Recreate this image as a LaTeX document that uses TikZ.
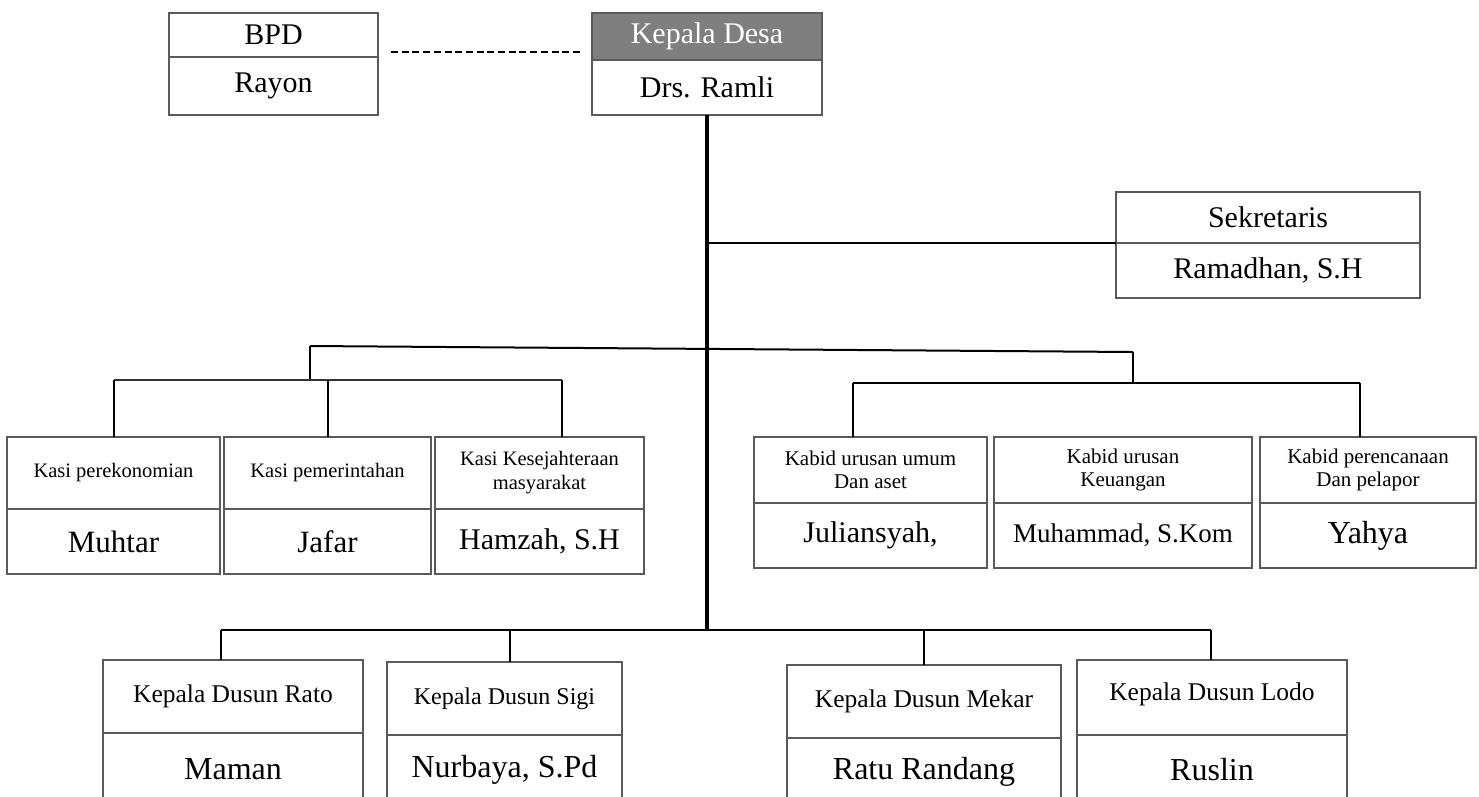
\documentclass[tikz,border=0pt]{standalone}
\usepackage{fontspec}
\setmainfont{Liberation Serif}
\definecolor{boxgray}{HTML}{5A5A5A}
\definecolor{headgray}{HTML}{7F7F7F}
\tikzset{
  cell/.style={draw=boxgray, line width=2pt, inner sep=0pt, outer sep=0pt, align=center, text=black},
  fbig/.style={font=\fontsize{30}{32}\selectfont},
  fname/.style={font=\fontsize{31}{33}\selectfont},
  fbname/.style={font=\fontsize{32}{34}\selectfont},
  fsmall/.style={font=\fontsize{20.5}{24}\selectfont},
  fkab/.style={font=\fontsize{21}{23}\selectfont},
  fdus/.style={font=\fontsize{25.5}{28}\selectfont},
  conn/.style={draw=black, line width=2pt},
  trunk/.style={draw=black, line width=3.5pt},
  thinconn/.style={draw=black!80, line width=1.6pt},
  dashline/.style={draw=black, line width=1.8pt, dash pattern=on 7pt off 3.7pt}
}
\begin{document}
\begin{tikzpicture}[x=1pt, y=-1pt]
\useasboundingbox (0,0) rectangle (1479,796);
\clip (0,0) rectangle (1479,796);

% BPD
\node[cell, fbig, minimum width=209pt, minimum height=44pt] (bpdh) at (273.5,35) {BPD};
\node[cell, fbig, minimum width=209pt, minimum height=58pt] (bpdn) at (273.5,86) {Rayon};

% Kepala Desa
\node[cell, fbig, fill=headgray, text=white, minimum width=230pt, minimum height=47pt] (kdh) at (707,36.5) {Kepala Desa};
\node[cell, fbig, minimum width=230pt, minimum height=55pt] (kdn) at (707,87.5) {Drs. Ramli};

% dashed link
\coordinate (d1) at (391,52);
\coordinate (d2) at (582,52);
\draw[dashline] (d1) -- (d2);

% Sekretaris
\node[cell, fbig, minimum width=304pt, minimum height=51pt] (sekh) at (1268,217.5) {Sekretaris};
\node[cell, fbig, minimum width=304pt, minimum height=55pt] (sekn) at (1268,270.5) {Ramadhan, S.H};

% Kasi boxes
\node[cell, fsmall, minimum width=213pt, minimum height=72pt] (k1h) at (113.5,473) {Kasi perekonomian};
\node[cell, fname, minimum width=213pt, minimum height=65pt] (k1n) at (113.5,541.5) {Muhtar};
\node[cell, fsmall, minimum width=207pt, minimum height=72pt] (k2h) at (327.5,473) {Kasi pemerintahan};
\node[cell, fname, minimum width=207pt, minimum height=65pt] (k2n) at (327.5,541.5) {Jafar};
\node[cell, fsmall, minimum width=209pt, minimum height=72pt] (k3h) at (539.5,473) {Kasi Kesejahteraan\\masyarakat};
\node[cell, fbig, minimum width=209pt, minimum height=65pt] (k3n) at (539.5,541.5) {Hamzah, S.H};

% Kabid boxes
\node[cell, fkab, minimum width=233pt, minimum height=66pt] (b1h) at (870.5,470) {Kabid urusan umum\\Dan aset};
\node[cell, fbig, minimum width=233pt, minimum height=65pt] (b1n) at (870.5,535.5) {Juliansyah,};
\node[cell, fkab, minimum width=258pt, minimum height=66pt] (b2h) at (1123,470) {Kabid urusan\\Keuangan};
\node[cell, font=\fontsize{27}{29}\selectfont, minimum width=258pt, minimum height=65pt] (b2n) at (1123,535.5) {Muhammad, S.Kom};
\node[cell, fkab, minimum width=216pt, minimum height=66pt] (b3h) at (1368,470) {Kabid perencanaan\\Dan pelapor};
\node[cell, font=\fontsize{32}{34}\selectfont, minimum width=216pt, minimum height=65pt] (b3n) at (1368,535.5) {Yahya};

% Dusun boxes
\node[cell, fdus, minimum width=260pt, minimum height=73pt] (d1h) at (233,696.5) {Kepala Dusun Rato};
\node[cell, fbname, minimum width=260pt, minimum height=72pt] (d1n) at (233,769) {Maman};
\node[cell, font=\fontsize{24}{26}\selectfont, minimum width=235pt, minimum height=73pt] (d2h) at (504.5,698.5) {Kepala Dusun Sigi};
\node[cell, fbname, minimum width=235pt, minimum height=70pt] (d2n) at (504.5,770) {Nurbaya, S.Pd};
\node[cell, fdus, minimum width=274pt, minimum height=73pt] (d3h) at (924,701.5) {Kepala Dusun Mekar};
\node[cell, fbname, minimum width=274pt, minimum height=67pt] (d3n) at (924,771.5) {Ratu Randang};
\node[cell, fdus, minimum width=270pt, minimum height=75pt, text depth=12pt] (d4h) at (1212,697.5) {Kepala Dusun Lodo};
\node[cell, fbname, minimum width=270pt, minimum height=70pt] (d4n) at (1212,770) {Ruslin};

% connector points
\coordinate (tsek) at (707,243);
\coordinate (tbot) at (707,630);
\coordinate (tl) at (310,346);
\coordinate (tr) at (1133,352);
\coordinate (lb) at (310,380);
\coordinate (lbl) at (113.5,380);
\coordinate (lbm) at (327.5,380);
\coordinate (lbr) at (562,380);
\coordinate (rb) at (1133,383);
\coordinate (rbl) at (853,383);
\coordinate (rbr) at (1360,383);
\coordinate (bl) at (221,630);
\coordinate (bm) at (510,630);
\coordinate (bmr) at (924,630);
\coordinate (br) at (1211,630);

% trunk
\draw[trunk] (kdn.south) -- (tbot);
% secretary branch
\draw[conn] (tsek) -- (sekn.north west);
% upper cross bar
\draw[conn] (tl) -- (tr);
% left group
\draw[conn] (tl) -- (lb);
\draw[thinconn] (lbl) -- (lbr);
\draw[conn] (lbl) -- (k1h.north);
\draw[conn] (lbm) -- (k2h.north);
\draw[conn] (lbr) -- (lbr |- k3h.north);
% right group
\draw[conn] (tr) -- (rb);
\draw[conn] (rbl) -- (rbr);
\draw[conn] (rbl) -- (rbl |- b1h.north);
\draw[conn] (rbr) -- (rbr |- b3h.north);
% bottom group
\draw[conn] (bl) -- (br);
\draw[conn] (bl) -- (bl |- d1h.north);
\draw[conn] (bm) -- (bm |- d2h.north);
\draw[conn] (bmr) -- (d3h.north);
\draw[conn] (br) -- (br |- d4h.north);
\end{tikzpicture}
\end{document}
